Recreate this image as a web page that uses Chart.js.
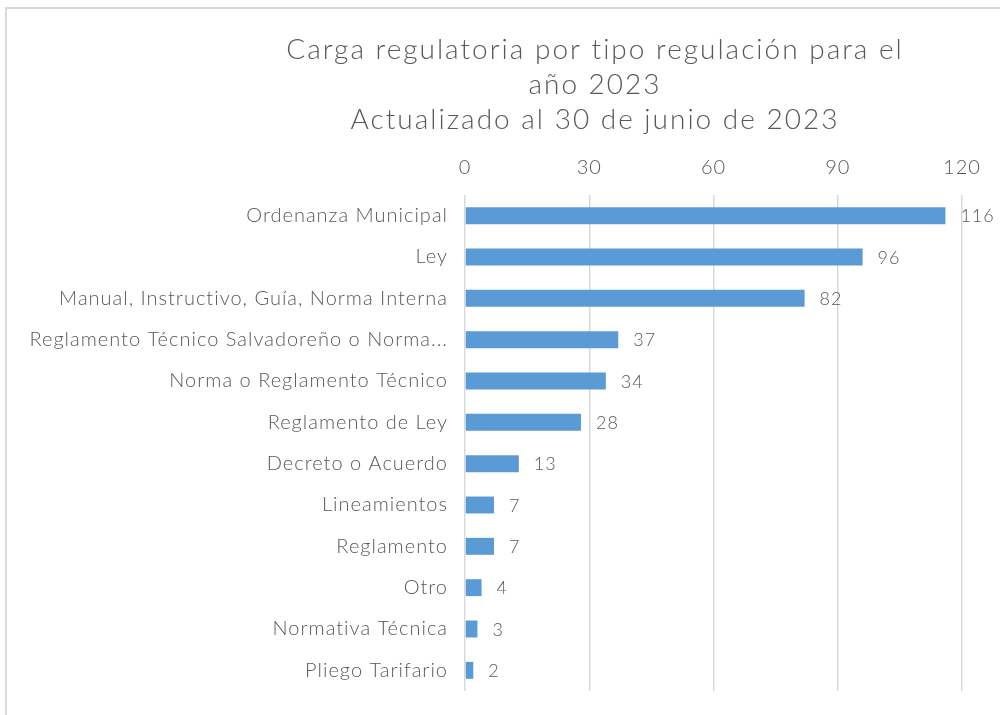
<!DOCTYPE html>
<html>
<head>
<meta charset="utf-8">
<script src="https://cdn.jsdelivr.net/npm/chart.js@4.4.0/dist/chart.umd.min.js"></script>
<style>
  html, body { margin: 0; padding: 0; background: #fff; }
  #wrap { width: 1000px; height: 715px; }
</style>
</head>
<body>
<div id="wrap"><canvas id="myChart" width="1000" height="715"></canvas></div>
<script>
const categories = [
  "Ordenanza Municipal",
  "Ley",
  "Manual, Instructivo, Guía, Norma Interna",
  "Reglamento Técnico Salvadoreño o Norma...",
  "Norma o Reglamento Técnico",
  "Reglamento de Ley",
  "Decreto o Acuerdo",
  "Lineamientos",
  "Reglamento",
  "Otro",
  "Normativa Técnica",
  "Pliego Tarifario"
];
const values = [116, 96, 82, 37, 34, 28, 13, 7, 7, 4, 3, 2];
const titleLines = [
  "Carga regulatoria por tipo regulación para el",
  "año 2023",
  "Actualizado al 30 de junio de 2023"
];
const xTicks = [0, 30, 60, 90, 120];

const FONT = "Lato, 'Open Sans', sans-serif";
const TEXT = "#595959";

// frame + title drawn by hand so the title can sit off-centre like the original
const decorPlugin = {
  id: "decor",
  beforeDraw(chart) {
    const ctx = chart.ctx;
    ctx.save();
    ctx.strokeStyle = "#d9d9d9";
    ctx.lineWidth = 2;
    ctx.beginPath();
    ctx.moveTo(6, 715);
    ctx.lineTo(6, 8);
    ctx.lineTo(1000, 8);
    ctx.stroke();
    ctx.restore();
    // the original font is wider than Lato
    ctx.letterSpacing = "1px";
  },
  afterDraw(chart) {
    const ctx = chart.ctx;
    ctx.save();
    ctx.fillStyle = TEXT;
    ctx.font = "300 28px " + FONT;
    ctx.letterSpacing = "2px";
    ctx.textAlign = "center";
    ctx.textBaseline = "middle";
    titleLines.forEach((t, i) => ctx.fillText(t, 595, 50 + i * 35));
    ctx.restore();
  }
};

// value labels to the right of each bar
const valueLabels = {
  id: "valueLabels",
  afterDatasetsDraw(chart) {
    const ctx = chart.ctx;
    const meta = chart.getDatasetMeta(0);
    ctx.save();
    ctx.fillStyle = TEXT;
    ctx.font = "300 18px " + FONT;
    ctx.textAlign = "left";
    ctx.textBaseline = "middle";
    meta.data.forEach((bar, i) => {
      ctx.fillText(String(values[i]), bar.x + 15, bar.y + 1);
    });
    ctx.restore();
  }
};

new Chart(document.getElementById("myChart").getContext("2d"), {
  type: "bar",
  data: {
    labels: categories,
    datasets: [{
      data: values,
      backgroundColor: "#5b9bd5",
      borderWidth: 0,
      barPercentage: 0.41,
      categoryPercentage: 1
    }]
  },
  options: {
    indexAxis: "y",
    responsive: false,
    animation: false,
    layout: { padding: { top: 0, right: 38, bottom: 24, left: 0 } },
    plugins: {
      legend: { display: false },
      title: { display: false },
      tooltip: { enabled: false }
    },
    scales: {
      x: {
        position: "top",
        min: 0,
        max: 120,
        afterBuildTicks(scale) {
          scale.ticks = xTicks.map(v => ({ value: v }));
        },
        afterFit(scale) {
          scale.height = 195;
          scale.paddingLeft = 0;
          scale.paddingRight = 0;
        },
        grid: { color: "#d9d9d9", lineWidth: 1.5, drawTicks: false },
        border: { display: false },
        ticks: {
          color: TEXT,
          font: { family: FONT, size: 20, weight: 300 },
          padding: 15
        }
      },
      y: {
        afterFit(scale) {
          scale.width = 465;
          scale.paddingTop = 0;
          scale.paddingBottom = 0;
        },
        grid: { display: false, drawTicks: false },
        border: { display: false },
        ticks: {
          color: TEXT,
          font: { family: FONT, size: 20, weight: 300 },
          padding: 17,
          autoSkip: false
        }
      }
    }
  },
  plugins: [decorPlugin, valueLabels]
});
</script>
</body>
</html>
